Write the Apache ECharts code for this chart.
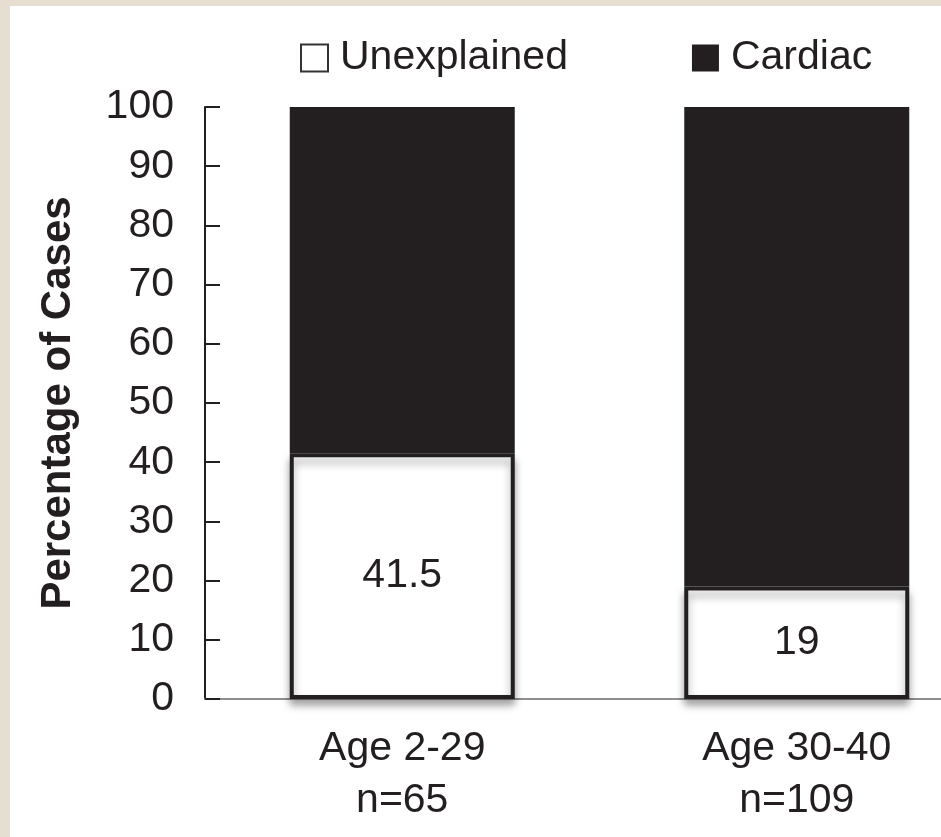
<!DOCTYPE html>
<html>
<head>
<meta charset="utf-8">
<script src="https://cdn.jsdelivr.net/npm/echarts@6/dist/echarts.min.js"></script>
<style>
    html, body { margin: 0; padding: 0; width: 941px; height: 837px; overflow: hidden; background: #e6ded1; }
    #chart { position: absolute; left: 10px; top: 6px; width: 984px; height: 831px; background: #ffffff; }
</style>
</head>
<body>
<div id="chart"></div>
<script>
    var categories = ["Age 2-29\nn=65", "Age 30-40\nn=109"];
    var unexplained = [41.5, 19];
    var cardiac = [58.5, 81];
    var yTicks = [0, 10, 20, 30, 40, 50, 60, 70, 80, 90, 100];

    var ink = "#231f20";
    var font = "'Liberation Sans', Arial, sans-serif";

    // chart div is wider than the window: the right part of the plot is cut off like in the scan
    var myChart = echarts.init(document.getElementById("chart"));

    myChart.setOption({
        animation: false,
        textStyle: { fontFamily: font, color: ink },
        legend: {
            left: 285,
            top: 25,
            itemWidth: 27,
            itemHeight: 27,
            itemGap: 124,
            textStyle: { fontSize: 41, color: ink, fontFamily: font, lineHeight: 44, padding: [0, 0, 0, 7] },
            data: [
                { name: "Unexplained", icon: "rect", itemStyle: { color: "#fff", borderColor: "#333", borderWidth: 2, shadowBlur: 0, shadowOffsetY: 0 } },
                { name: "Cardiac", icon: "rect", itemStyle: { color: ink, borderWidth: 0 } }
            ]
        },
        grid: {
            left: 195,
            right: 0,
            top: 101,
            bottom: 138
        },
        xAxis: {
            type: "category",
            data: categories,
            axisLine: { lineStyle: { color: "#8f8f8f", width: 2 } },
            axisTick: { show: false },
            axisLabel: { fontSize: 41, lineHeight: 52, color: ink, margin: 24, fontFamily: font }
        },
        yAxis: {
            type: "value",
            min: yTicks[0],
            max: yTicks[yTicks.length - 1],
            interval: 10,
            name: "Percentage of Cases",
            nameLocation: "middle",
            nameGap: 126,
            nameTextStyle: { fontSize: 42, fontWeight: "bold", color: ink, fontFamily: font },
            axisLine: { show: true, lineStyle: { color: ink, width: 2 } },
            axisTick: { show: true, inside: true, length: 15, lineStyle: { color: ink, width: 2 } },
            axisLabel: { fontSize: 41, color: ink, margin: 31, fontFamily: font },
            splitLine: { show: false }
        },
        series: [
            {
                name: "Unexplained",
                type: "bar",
                stack: "total",
                barWidth: 225,
                data: unexplained,
                itemStyle: {
                    color: "#ffffff",
                    borderColor: ink,
                    borderWidth: 4,
                    shadowColor: "rgba(0,0,0,0.35)",
                    shadowBlur: 8,
                    shadowOffsetY: 6
                },
                label: {
                    show: true,
                    position: "inside",
                    fontSize: 41,
                    color: ink,
                    fontFamily: font
                }
            },
            {
                name: "Cardiac",
                type: "bar",
                stack: "total",
                barWidth: 225,
                data: cardiac,
                itemStyle: { color: ink }
            }
        ]
    });
</script>
</body>
</html>
